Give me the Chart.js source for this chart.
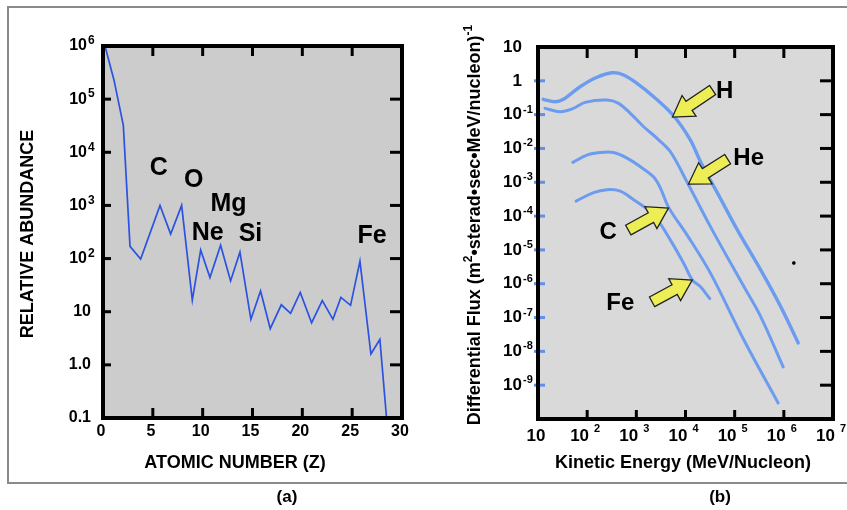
<!DOCTYPE html>
<html>
<head>
<meta charset="utf-8">
<script src="https://cdn.jsdelivr.net/npm/chart.js@4.4.1/dist/chart.umd.min.js"></script>
<style>
  body { margin: 0; background: #fff; width: 847px; height: 510px; overflow: hidden; position: relative;
         font-family: "Liberation Sans", Arial, sans-serif; }
  #frame { position: absolute; left: 7px; top: 6px; width: 840px; height: 478px; box-sizing: border-box;
           border-top: 2px solid #8a8a8a; border-left: 2px solid #8a8a8a; border-bottom: 2px solid #8a8a8a; }
  canvas { position: absolute; top: 0; }
  #chartA { left: 0; }
  #chartB { left: 420px; }
  .cap { position: absolute; top: 487px; font-weight: bold; font-size: 17px; transform: translateX(-50%); }
</style>
</head>
<body>
<div id="frame"></div>
<canvas id="chartA" width="420" height="510"></canvas>
<canvas id="chartB" width="427" height="510"></canvas>
<div class="cap" style="left:287px">(a)</div>
<div class="cap" style="left:720px">(b)</div>
<script>
// (a) relative abundance vs atomic number
const atomicZ = [0.2, 1.1, 2.04, 2.71, 3.78, 5.72, 6.79, 7.89, 8.96, 9.8, 10.73, 11.8, 12.8, 13.74, 14.84,
  15.81, 16.78, 17.89, 18.82, 19.79, 20.93, 22.0, 23.07, 23.87, 24.84, 25.78, 26.88, 27.78, 28.45];
const relAbundance = [1e6, 2.3e5, 3.2e4, 170, 98, 1000, 290, 1000, 16.6, 145, 44, 178, 38, 132, 7.2,
  24.5, 4.8, 13.5, 9.3, 23, 6.2, 16.2, 7.2, 18.6, 13.2, 89, 1.6, 3.0, 0.1];

const zTickValues = [0, 5, 10, 15, 20, 25, 30];
const abundTickValues = [1e6, 1e5, 1e4, 1e3, 1e2, 10, 1, 0.1];
const abundTickBase = ["10", "10", "10", "10", "10", "10", "1.0", "0.1"];
const abundTickExp = ["6", "5", "4", "3", "2", "", "", ""];

// (b) differential flux vs kinetic energy
const hEnergy = [12.8, 22.2, 32.8, 71.9, 158, 319, 551, 1030, 2250, 5770, 12600, 20200, 51800, 1.14e5, 3.4e5, 8.69e5, 1.96e6];
const hFlux = [0.284, 0.241, 0.284, 0.668, 1.27, 1.74, 1.49, 0.843, 0.339, 0.091, 0.0177, 0.00407, 3.24e-4, 3.85e-5, 2.52e-6, 2.07e-7, 1.78e-8];
const heEnergy = [13.9, 28.1, 52.5, 91, 252, 436, 755, 1410, 2640, 4940, 10800, 35100, 1.55e5, 3.4e5, 9.68e5];
const heFlux = [0.153, 0.122, 0.153, 0.231, 0.27, 0.216, 0.109, 0.0439, 0.0199, 0.00798, 0.001, 3.85e-5, 8.09e-7, 1.05e-7, 3.48e-9];
const cEnergy = [51.1, 98.6, 184, 344, 646, 1210, 2250, 3090, 4560, 10800, 32400, 1.55e5, 7.66e5];
const cFlux = [0.00388, 0.00638, 0.00757, 0.00757, 0.0052, 0.00288, 0.00143, 6.73e-4, 1.78e-4, 2.74e-5, 2.02e-6, 2.14e-8, 2.99e-10];
const feEnergy = [59.7, 135, 252, 471, 881, 1650, 2640, 4940, 9230, 13700, 20200, 31300];
const feFlux = [2.78e-4, 4.95e-4, 6.04e-4, 5.5e-4, 3.05e-4, 1.61e-4, 8.15e-5, 1.95e-5, 3.99e-6, 1.31e-6, 8.09e-7, 3.62e-7];
const strayEnergy = [1.6e6];
const strayFlux = [4.1e-6];

const energyTickValues = [10, 1e2, 1e3, 1e4, 1e5, 1e6, 1e7];
const energyTickBase = ["10", "10", "10", "10", "10", "10", "10"];
const energyTickExp = ["", "2", "3", "4", "5", "6", "7"];
const fluxTickValues = [10, 1, 1e-1, 1e-2, 1e-3, 1e-4, 1e-5, 1e-6, 1e-7, 1e-8, 1e-9];
const fluxTickBase = ["10", "1", "10", "10", "10", "10", "10", "10", "10", "10", "10"];
const fluxTickExp = ["", "", "-1", "-2", "-3", "-4", "-5", "-6", "-7", "-8", "-9"];

const FONT = '"Liberation Sans", Arial, sans-serif';

function toPoints(xs, ys) {
  return xs.map((x, i) => ({ x: x, y: ys[i] }));
}

// draws "base" with a raised exponent; align right = base ends at x, center = whole label centred on x
function powLabel(ctx, base, exp, x, y, align, s) {
  ctx.font = `bold ${s.size}px ${FONT}`;
  const wb = ctx.measureText(base).width;
  ctx.font = `bold ${s.expSize}px ${FONT}`;
  const we = exp ? ctx.measureText(exp).width : 0;
  let x0 = align === "right" ? x - wb : x - (wb + (exp ? s.gap + we : 0)) / 2;
  ctx.textAlign = "left";
  ctx.textBaseline = "middle";
  ctx.font = `bold ${s.size}px ${FONT}`;
  ctx.fillText(base, x0, y);
  if (exp) {
    ctx.font = `bold ${s.expSize}px ${FONT}`;
    ctx.fillText(exp, x0 + wb + s.gap, y - s.rise);
  }
}

// text made of plain and superscript pieces, centred on (cx, cy)
function richText(ctx, segs, cx, cy, rot, size, supSize, rise) {
  ctx.save();
  ctx.translate(cx, cy);
  ctx.rotate(rot);
  let total = 0;
  segs.forEach((sg) => {
    ctx.font = `bold ${sg.sup ? supSize : size}px ${FONT}`;
    sg.w = ctx.measureText(sg.t).width;
    total += sg.w;
  });
  let px = -total / 2;
  ctx.textAlign = "left";
  ctx.textBaseline = "middle";
  segs.forEach((sg) => {
    ctx.font = `bold ${sg.sup ? supSize : size}px ${FONT}`;
    ctx.fillText(sg.t, px, sg.sup ? -rise : 0);
    px += sg.w;
  });
  ctx.restore();
}

function arrow(ctx, x1, y1, x2, y2) {
  const dx = x2 - x1, dy = y2 - y1, L = Math.hypot(dx, dy);
  const ux = dx / L, uy = dy / L, nx = -uy, ny = ux;
  const head = 20, hw = 12.5, sw = 5.5;
  const bx = x2 - ux * head, by = y2 - uy * head;
  const pts = [
    [x1 + nx * sw, y1 + ny * sw], [bx + nx * sw, by + ny * sw], [bx + nx * hw, by + ny * hw], [x2, y2],
    [bx - nx * hw, by - ny * hw], [bx - nx * sw, by - ny * sw], [x1 - nx * sw, y1 - ny * sw],
  ];
  ctx.beginPath();
  pts.forEach((p, i) => (i ? ctx.lineTo(p[0], p[1]) : ctx.moveTo(p[0], p[1])));
  ctx.closePath();
  ctx.fillStyle = "#eded55";
  ctx.fill();
  ctx.lineWidth = 1.3;
  ctx.strokeStyle = "#222";
  ctx.stroke();
}

const decor = {
  id: "decor",
  beforeDatasetsDraw(chart, args, o) {
    const { ctx, chartArea: a } = chart;
    ctx.save();
    ctx.fillStyle = o.background;
    ctx.fillRect(a.left, a.top, a.right - a.left, a.bottom - a.top);
    ctx.restore();
  },
  afterDatasetsDraw(chart, args, o) {
    const { ctx, chartArea: a } = chart;
    const xs = chart.scales.x, ys = chart.scales.y;
    const seg = (x1, y1, x2, y2) => { ctx.beginPath(); ctx.moveTo(x1, y1); ctx.lineTo(x2, y2); ctx.stroke(); };
    ctx.save();

    // tick marks, all pointing into the plot
    ctx.lineWidth = 3;
    ctx.strokeStyle = "#000";
    o.xMarks.forEach((v) => {
      const px = xs.getPixelForValue(v);
      seg(px, a.top, px, a.top + o.topLen);
      seg(px, a.bottom, px, a.bottom - o.bottomLen);
    });
    o.yMarks.forEach((v) => {
      const py = ys.getPixelForValue(v);
      ctx.strokeStyle = "#000";
      seg(a.right, py, a.right - o.rightLen, py);
      ctx.strokeStyle = o.leftColor;
      seg(a.left - o.leftOut, py, a.left + o.leftLen, py);
    });

    // frame
    ctx.strokeStyle = "#000";
    ctx.lineWidth = 4;
    ctx.strokeRect(a.left, a.top, a.right - a.left, a.bottom - a.top);

    // tick labels
    ctx.fillStyle = "#000";
    const xl = o.xLabels;
    xl.values.forEach((v, i) => {
      powLabel(ctx, xl.base[i], xl.exp[i], xs.getPixelForValue(v) + xl.dx, a.bottom + xl.dy, "center", xl);
    });
    const yl = o.yLabels;
    yl.values.forEach((v, i) => {
      const off = yl.exp[i] ? yl.dxExp : yl.dxPlain;
      powLabel(ctx, yl.base[i], yl.exp[i], a.left + off, ys.getPixelForValue(v), "right", yl);
    });

    // axis titles
    o.titles.forEach((t) => richText(ctx, t.segs, t.x, t.y, t.rot, t.size, t.supSize || 12, t.rise || 5));

    // element names and arrows, placed in data coordinates
    ctx.font = `bold ${o.noteSize}px ${FONT}`;
    ctx.textAlign = "center";
    ctx.textBaseline = "middle";
    o.notes.forEach((n) => ctx.fillText(n.text, xs.getPixelForValue(n.x), ys.getPixelForValue(n.y)));
    (o.arrows || []).forEach((r) => {
      arrow(ctx, xs.getPixelForValue(r.from[0]), ys.getPixelForValue(r.from[1]),
        xs.getPixelForValue(r.to[0]), ys.getPixelForValue(r.to[1]));
    });
    ctx.restore();
  },
};

const hidden = { grid: { display: false }, border: { display: false }, ticks: { display: false } };

// ---------- panel (a)
new Chart(document.getElementById("chartA"), {
  type: "line",
  data: {
    datasets: [{
      data: toPoints(atomicZ, relAbundance),
      borderColor: "#2b52e3",
      borderWidth: 1.7,
      pointRadius: 0,
      tension: 0,
      fill: false,
    }],
  },
  options: {
    responsive: false,
    animation: false,
    layout: { padding: { top: 46, right: 18, left: 0, bottom: 0 } },
    plugins: {
      legend: { display: false },
      tooltip: { enabled: false },
      decor: {
        background: "#cccccc",
        xMarks: [5, 10, 15, 20, 25],
        yMarks: [1e5, 1e4, 1e3, 1e2, 10, 1],
        topLen: 10, bottomLen: 10, rightLen: 12, leftLen: 8, leftOut: 0, leftColor: "#000",
        xLabels: { values: zTickValues, base: zTickValues.map(String), exp: zTickValues.map(() => ""),
          size: 16, expSize: 12, rise: 5, gap: 1, dx: -2, dy: 14 },
        yLabels: { values: abundTickValues, base: abundTickBase, exp: abundTickExp,
          size: 16, expSize: 12, rise: 5, gap: 1, dxPlain: -12, dxExp: -16 },
        titles: [
          { segs: [{ t: "ATOMIC NUMBER (Z)" }], x: 235, y: 463, rot: 0, size: 18 },
          { segs: [{ t: "RELATIVE ABUNDANCE" }], x: 28, y: 234, rot: -Math.PI / 2, size: 18 },
        ],
        noteSize: 25,
        notes: [
          { text: "C", x: 5.6, y: 5000 },
          { text: "O", x: 9.1, y: 3000 },
          { text: "Mg", x: 12.6, y: 1050 },
          { text: "Ne", x: 10.5, y: 300 },
          { text: "Si", x: 14.8, y: 290 },
          { text: "Fe", x: 27.0, y: 260 },
        ],
      },
    },
    scales: {
      x: { type: "linear", min: 0, max: 30, ...hidden, afterFit: (s) => { s.height = 92; } },
      y: { type: "logarithmic", min: 0.1, max: 1e6, ...hidden, afterFit: (s) => { s.width = 103; } },
    },
  },
  plugins: [decor],
});

// ---------- panel (b)
const fluxLine = { borderColor: "#6c9cf0", borderWidth: 3, pointRadius: 0, tension: 0.35, fill: false, borderCapStyle: "round" };

new Chart(document.getElementById("chartB"), {
  type: "line",
  data: {
    datasets: [
      { label: "H", data: toPoints(hEnergy, hFlux), ...fluxLine, borderWidth: 3.4 },
      { label: "He", data: toPoints(heEnergy, heFlux), ...fluxLine },
      { label: "C", data: toPoints(cEnergy, cFlux), ...fluxLine },
      { label: "Fe", data: toPoints(feEnergy, feFlux), ...fluxLine },
      { label: "mark", data: toPoints(strayEnergy, strayFlux), showLine: false, pointStyle: "rect",
        pointRadius: 1.6, backgroundColor: "#000", borderColor: "#000" },
    ],
  },
  options: {
    responsive: false,
    animation: false,
    layout: { padding: { top: 47, right: 14, left: 0, bottom: 0 } },
    plugins: {
      legend: { display: false },
      tooltip: { enabled: false },
      decor: {
        background: "#d9d9d9",
        xMarks: [1e2, 1e3, 1e4, 1e5, 1e6],
        yMarks: [1, 1e-1, 1e-2, 1e-3, 1e-4, 1e-5, 1e-6, 1e-7, 1e-8, 1e-9],
        topLen: 11, bottomLen: 9, rightLen: 13, leftLen: 7, leftOut: 4, leftColor: "#5f90ec",
        xLabels: { values: energyTickValues, base: energyTickBase, exp: energyTickExp,
          size: 17, expSize: 11, rise: 7, gap: 5, dx: -2, dy: 17 },
        yLabels: { values: fluxTickValues, base: fluxTickBase, exp: fluxTickExp,
          size: 17, expSize: 11, rise: 5, gap: 1, dxPlain: -16, dxExp: -16 },
        titles: [
          { segs: [{ t: "Kinetic Energy (MeV/Nucleon)" }], x: 263, y: 463, rot: 0, size: 18 },
          { segs: [{ t: "Differential Flux (m" }, { t: "2", sup: true }, { t: "\u2022sterad\u2022sec\u2022MeV/nucleon)" },
            { t: "-1", sup: true }], x: 55, y: 225, rot: -Math.PI / 2, size: 18, supSize: 12, rise: 6 },
        ],
        noteSize: 24,
        notes: [
          { text: "H", x: 62500, y: 0.499 },
          { text: "He", x: 193000, y: 0.0052 },
          { text: "C", x: 268, y: 3.37e-5 },
          { text: "Fe", x: 471, y: 2.67e-7 },
        ],
        arrows: [
          { from: [35600, 0.535], to: [5430, 0.0849] },
          { from: [71900, 0.00485], to: [11500, 8.85e-4] },
          { from: [687, 3.85e-5], to: [4500, 1.73e-4] },
          { from: [2090, 2.91e-7], to: [13700, 1.28e-6] },
        ],
      },
    },
    scales: {
      x: { type: "logarithmic", min: 10, max: 1e7, ...hidden, afterFit: (s) => { s.height = 91; } },
      y: { type: "logarithmic", min: 1e-10, max: 10, ...hidden, afterFit: (s) => { s.width = 118; } },
    },
  },
  plugins: [decor],
});
</script>
</body>
</html>
